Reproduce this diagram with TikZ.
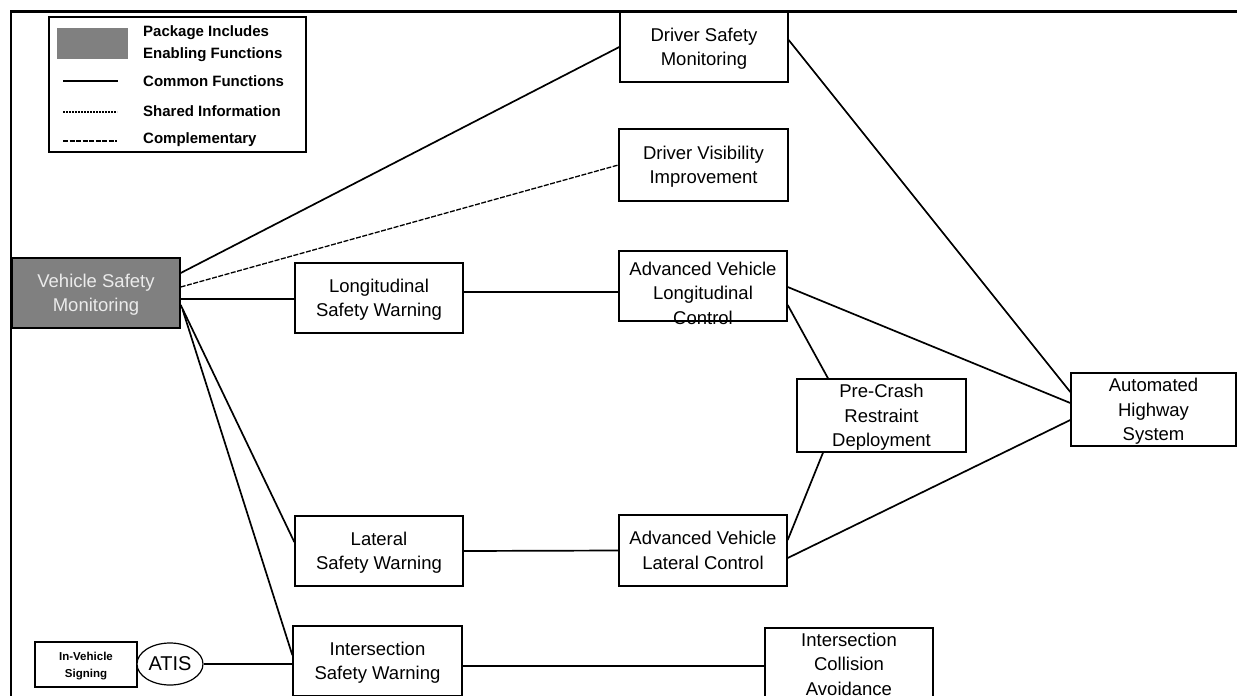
\documentclass[tikz,border=0pt]{standalone}
\usepackage{fontspec}
\setmainfont{Liberation Sans}
\usetikzlibrary{shapes.geometric}

\tikzset{
  box/.style={draw, line width=1.4pt, fill=white, align=center, inner sep=0pt,
              text depth=-5pt, font=\fontsize{18.5}{24.5}\selectfont},
  pkgbox/.style={box, fill=black!50, text=black!8},
  common/.style={line width=1.7pt},
  shared/.style={line width=1.2pt, dash pattern=on 2pt off 1pt},
  compl/.style={line width=1.3pt, dash pattern=on 5pt off 1.5pt},
  legtext/.style={anchor=west, inner sep=0pt, font=\bfseries\fontsize{15}{20}\selectfont}
}

\begin{document}
\begin{tikzpicture}[x=1pt,y=-1pt]
\useasboundingbox (0,0) rectangle (1237,696);
\clip (0,0) rectangle (1237,696);

% outer frame (top and left edges)
\draw[line width=3pt] (10,11) -- (1237,11);
\draw[line width=2pt] (11,11) -- (11,696);

% legend
\draw[line width=1.6pt] (49,17) rectangle (306,152);
\fill[black!50] (57,28) rectangle (128,59);
\node[legtext] (lg1) at (143,33) {Package Includes};
\node[legtext] (lg2) at (143,55) {Enabling Functions};
\node[legtext] (lg3) at (143,81) {Common Functions};
\node[legtext] (lg4) at (143,111) {Shared Information};
\node[legtext] (lg5) at (143,140) {Complementary};
\coordinate (l3a) at (63,81);  \coordinate (l3b) at (118,81);
\coordinate (l4a) at (63,112); \coordinate (l4b) at (117,112);
\coordinate (l5a) at (63,141); \coordinate (l5b) at (117,141);
\draw[common] (l3a) -- (l3b);
\draw[shared] (l4a) -- (l4b);
\draw[compl]  (l5a) -- (l5b);

% function packages
\node[pkgbox, minimum width=168pt, minimum height=70pt] (vsm) at (96,293) {Vehicle Safety\\Monitoring};
\node[box, minimum width=168pt, minimum height=70pt] (dsm) at (704,47) {Driver Safety\\Monitoring};
\node[box, minimum width=169pt, minimum height=72pt] (dvi) at (703.5,165) {Driver Visibility\\Improvement};
\node[box, minimum width=168pt, minimum height=70pt] (lsw) at (379,298) {Longitudinal\\Safety Warning};
\node[box, minimum width=168pt, minimum height=70pt] (avlc) at (703,286) {};
\node[align=center, inner sep=0pt, font=\fontsize{18.5}{24.5}\selectfont] (avlct) at (703,293) {Advanced Vehicle\\Longitudinal\\Control};
\node[box, minimum width=169pt, minimum height=73pt] (pcrd) at (881.5,415.5) {Pre-Crash\\Restraint\\Deployment};
\node[box, minimum width=165pt, minimum height=73pt] (ahs) at (1153.5,409.5) {Automated\\Highway\\System};
\node[box, minimum width=168pt, minimum height=70pt] (latsw) at (379,551) {Lateral\\Safety Warning};
\node[box, minimum width=168pt, minimum height=71pt] (avlat) at (703,550.5) {Advanced Vehicle\\Lateral Control};
\node[box, minimum width=169pt, minimum height=70pt] (isw) at (377.5,661) {Intersection\\Safety Warning};
\node[box, text depth=0pt, minimum width=168pt, minimum height=72pt] (ica) at (849,664) {Intersection\\Collision\\Avoidance};
\node[box, line width=1.2pt, text depth=0pt, minimum width=102pt, minimum height=45pt,
      font=\bfseries\fontsize{11.5}{17}\selectfont] (ivs) at (86,664.5) {In-Vehicle\\Signing};
\node[box, ellipse, line width=1.2pt, text depth=0pt, minimum width=66pt, minimum height=42pt,
      font=\fontsize{20}{24}\selectfont] (atis) at (170,664) {ATIS};

% connectors
\draw[common] ([yshift=20pt]vsm.east) -- (dsm.west);
\draw[compl]  ([yshift=6pt]vsm.east) -- (dvi.west);
\draw[common] ([yshift=-6pt]vsm.east) -- ([yshift=-1pt]lsw.west);
\draw[common] ([yshift=-12pt]vsm.east) -- ([yshift=9pt]latsw.west);
\draw[common] ([xshift=2pt,yshift=-17pt]vsm.east) -- ([yshift=6pt]isw.west);
\draw[common] ([yshift=6pt]lsw.east) -- ([yshift=-6pt]avlc.west);
\draw[common] (latsw.east) -- (avlat.west);
\draw[common] ([yshift=-5pt]isw.east) -- ([yshift=-2pt]ica.west);
\draw[common] (atis.east) -- ([yshift=-3pt]isw.west);
\draw[common] ([yshift=7pt]dsm.east) -- ([yshift=17.5pt]ahs.west);
\draw[common] ([yshift=-1pt]avlc.east) -- ([yshift=6.5pt]ahs.west);
\draw[common] ([yshift=-7.5pt]avlat.east) -- ([yshift=-10.5pt]ahs.west);
\draw[common] ([yshift=-19pt]avlc.east) -- ([xshift=-53.5pt]pcrd.north);
\draw[common] ([xshift=-58.5pt]pcrd.south) -- ([yshift=10.5pt]avlat.east);
\end{tikzpicture}
\end{document}
